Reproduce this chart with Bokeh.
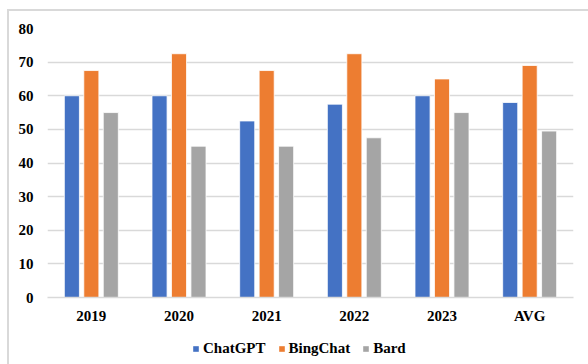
from bokeh.plotting import figure
from bokeh.models import ColumnDataSource, Legend, LegendItem, FactorRange
from bokeh.layouts import column
from bokeh.transform import dodge
from bokeh.embed import file_html
from bokeh.resources import INLINE

categories = ["2019", "2020", "2021", "2022", "2023", "AVG"]
series_names = ["ChatGPT", "BingChat", "Bard"]
chatgpt = [60, 60, 52.5, 57.5, 60, 58]
bingchat = [67.5, 72.5, 67.5, 72.5, 65, 69]
bard = [55, 45, 45, 47.5, 55, 49.5]
y_ticks = [0, 10, 20, 30, 40, 50, 60, 70, 80]
colors = ["#4472C4", "#ED7D31", "#A5A5A5"]

src = ColumnDataSource(dict(cat=categories, ChatGPT=chatgpt, BingChat=bingchat, Bard=bard))

FONT = "Liberation Serif"

p = figure(x_range=FactorRange(*categories, range_padding=0), y_range=(0, 80),
           width=579, height=319, output_backend="svg", toolbar_location=None,
           min_border_left=38, min_border_right=15, min_border_top=17, min_border_bottom=33)
p.outline_line_color = None
p.background_fill_color = "white"
p.border_fill_color = "white"

offsets = [-0.222, 0.0, 0.222]
for name, col, off in zip(series_names, colors, offsets):
    p.vbar(x=dodge("cat", off, range=p.x_range), top=name, width=0.172, source=src,
           fill_color=col, line_color="white", line_width=0.8)

p.xgrid.grid_line_color = None
p.ygrid.grid_line_color = "#d9d9d9"
p.ygrid.grid_line_width = 1.5
p.yaxis.ticker = y_ticks
p.yaxis.axis_line_color = None
p.yaxis.major_tick_line_color = None
p.yaxis.minor_tick_line_color = None
p.yaxis.major_label_text_font = FONT
p.yaxis.major_label_text_font_style = "bold"
p.yaxis.major_label_text_font_size = "15px"
p.yaxis.major_label_text_color = "#000000"
p.yaxis.major_label_standoff = 8

p.xaxis.axis_line_color = "#d9d9d9"
p.xaxis.axis_line_width = 1.5
p.xaxis.major_tick_line_color = None
p.xaxis.minor_tick_line_color = None
p.xaxis.major_label_text_font = FONT
p.xaxis.major_label_text_font_style = "bold"
p.xaxis.major_label_text_font_size = "15px"
p.xaxis.major_label_text_color = "#000000"
p.xaxis.major_label_standoff = 4

# legend strip below the chart (legend-only figure; its bars lie outside its range)
lg = figure(width=579, height=34, output_backend="svg", toolbar_location=None,
            x_range=(0, 1), y_range=(0, 1),
            min_border_left=0, min_border_right=0, min_border_top=0, min_border_bottom=0)
lg.axis.visible = False
lg.grid.visible = False
lg.outline_line_color = None
lg.border_fill_color = "white"
lg.background_fill_color = "white"
dummy = ColumnDataSource(dict(x=[-10], top=[-10]))
leg_renderers = [lg.vbar(x="x", top="top", width=0.1, source=dummy, fill_color=c, line_color=None)
                 for c in colors]
legend = Legend(items=[LegendItem(label=n, renderers=[r]) for n, r in zip(series_names, leg_renderers)],
                orientation="horizontal", location=(145, 7))
legend.label_text_font = FONT
legend.label_text_font_style = "bold"
legend.label_text_font_size = "15px"
legend.label_text_color = "#000000"
legend.glyph_width = 7
legend.glyph_height = 7
legend.label_standoff = 4
legend.spacing = 12
legend.padding = 2
legend.margin = 0
legend.border_line_color = None
legend.background_fill_alpha = 0
lg.add_layout(legend, "center")

layout = column(p, lg, spacing=0)
layout.margin = (9, 0, 0, 7)
layout.styles = {"border-top": "2px solid #d9d9d9", "border-left": "2px solid #d9d9d9"}

open("out.html", "w").write(file_html(layout, INLINE))
